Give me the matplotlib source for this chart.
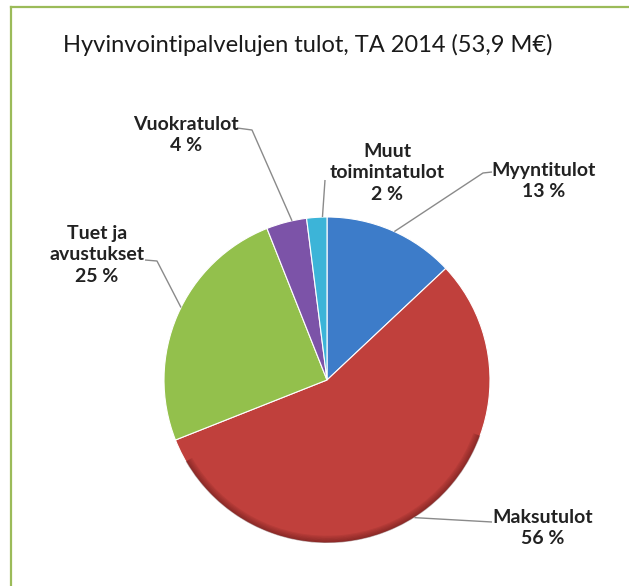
import matplotlib.pyplot as plt
import numpy as np
from matplotlib.lines import Line2D
from matplotlib.patches import Wedge

W, H = 629, 586

title = 'Hyvinvointipalvelujen tulot, TA 2014 (53,9 M€)'
labels = ['Myyntitulot', 'Maksutulot', 'Tuet ja\navustukset', 'Vuokratulot', 'Muut\ntoimintatulot']
values = [13, 56, 25, 4, 2]
colors = ['#3d7cc9', '#c0403c', '#93c04c', '#7c53a8', '#3cb4d8']

# label placement in pixel coords (y down), elbow points and edge angle offsets
text_pos = [(544, 181), (543, 528), (97, 255), (186, 135), (387, 173)]
elbows = [[(492, 172), (483, 173)], [(492, 522)], [(145, 260), (157, 261)],
          [(237, 128), (252, 130)], [(325, 180)]]
angle_fix = [-1, 0, -3, -2, -2]

plt.rcParams['font.family'] = ['Lato', 'DejaVu Sans']

fig = plt.figure(figsize=(W / 100, H / 100), dpi=100)
fig.patch.set_facecolor('white')
ax = fig.add_axes([0, 0, 1, 1])

cx, cy, r = 327, 380, 163
wedges, _ = ax.pie(values, colors=colors, startangle=90, counterclock=False,
                   center=(cx, H - cy), radius=r,
                   wedgeprops=dict(edgecolor='white', linewidth=0.8))

# darker rim on the lower edge for the bevelled look
for k in range(6):
    ax.add_patch(Wedge((cx, H - cy), r - k * 1.2, -150, -20, width=1.3,
                       color='#4a0e0e', alpha=0.45 - k * 0.07, lw=0))

for w, lab, v, tp, el, da in zip(wedges, labels, values, text_pos, elbows, angle_fix):
    ang = np.deg2rad((w.theta1 + w.theta2) / 2 + da)
    ex, ey = cx + r * np.cos(ang), (H - cy) + r * np.sin(ang)
    xs = [p[0] for p in el] + [ex]
    ys = [H - p[1] for p in el] + [ey]
    ax.plot(xs, ys, color='#8a8a8a', lw=1.0, solid_capstyle='butt')
    ax.text(tp[0], H - tp[1], f'{lab}\n{v} %', ha='center', va='center',
            fontsize=14, fontweight='bold', color='#222222', linespacing=1.3)

ax.text(308, H - 45, title, ha='center', va='center', fontsize=17, color='#1a1a1a')

ax.set_xlim(0, W)
ax.set_ylim(0, H)
ax.set_aspect('equal')
ax.axis('off')

# green frame, top and left edges
fig.add_artist(Line2D([11 / W, 1], [1 - 7 / H, 1 - 7 / H], color='#9bbb59', lw=1.6))
fig.add_artist(Line2D([11 / W, 11 / W], [0, 1 - 7 / H], color='#9bbb59', lw=1.6))

fig.savefig('out.png', dpi=100, facecolor='white')
